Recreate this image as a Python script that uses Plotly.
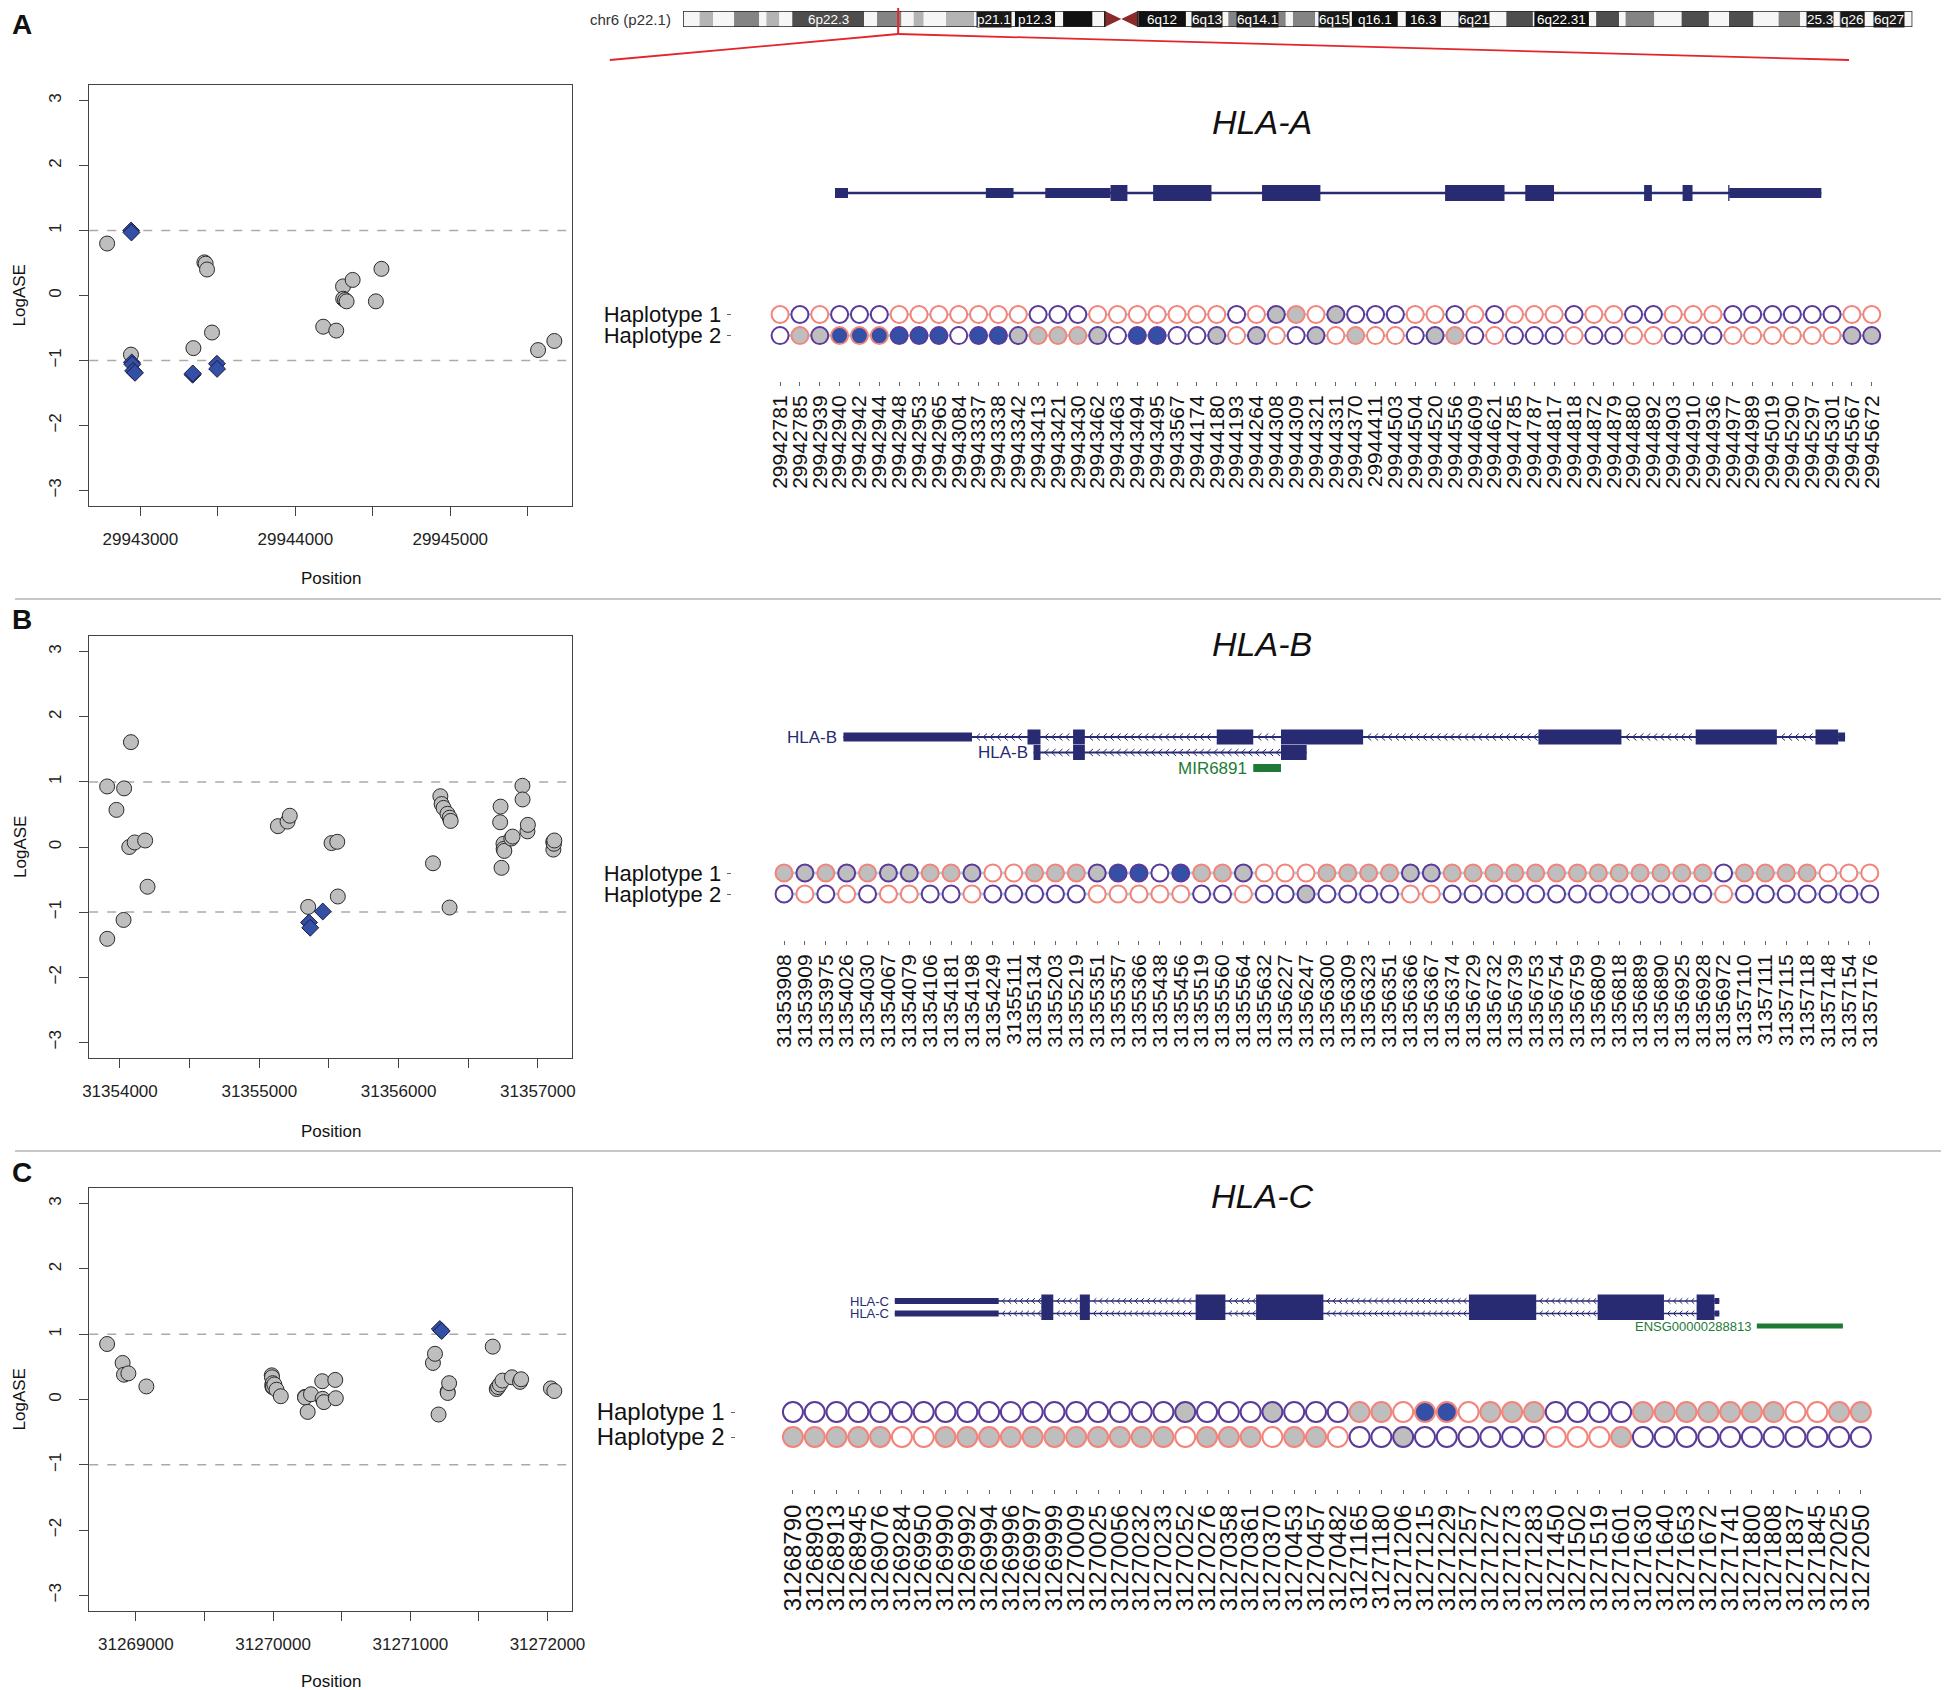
import numpy as np
import plotly.graph_objects as go

W, H = 1949, 1690
OFF = 8  # page margin of the html body
SANS = "Liberation Sans, Arial, Helvetica, sans-serif"
NARROW = "Liberation Sans Narrow, Liberation Sans, Arial, sans-serif"

PINK = "#F4837A"
PURPLE = "#5B3A9A"
GREY = "#BEBEBE"
BLUE = "#3450A6"
LINK = "#A8D7EC"
NAVY = "#282A72"
GREEN = "#1E7A36"
RED = "#E3262B"

# ---------------- chromosome 6 ideogram (hg19 bands, Mb) ----------------
band_name = ["p25.3", "p25.2", "p25.1", "p24.3", "p24.2", "p24.1", "p23", "p22.3", "p22.2", "p22.1",
             "p21.33", "p21.32", "p21.31", "p21.2", "p21.1", "p12.3", "p12.2", "p12.1", "p11.2", "p11.1",
             "q11.1", "q11.2", "q12", "q13", "q14.1", "q14.2", "q14.3", "q15", "q16.1", "q16.2",
             "q16.3", "q21", "q22.1", "q22.2", "q22.31", "q22.32", "q22.33", "q23.1", "q23.2", "q23.3",
             "q24.1", "q24.2", "q24.3", "q25.1", "q25.2", "q25.3", "q26", "q27"]
band_start = [0.0, 2.3, 4.2, 7.1, 10.6, 11.6, 13.4, 15.2, 25.2, 27.0,
              30.4, 32.1, 33.5, 36.6, 40.5, 46.2, 51.8, 52.9, 57.0, 58.7,
              61.0, 63.3, 63.4, 70.0, 75.9, 83.9, 84.9, 88.0, 93.1, 99.5,
              100.6, 105.5, 114.6, 118.3, 118.5, 126.1, 127.1, 130.3, 131.2, 135.2,
              139.0, 142.8, 145.6, 149.0, 152.5, 155.5, 161.0, 164.5]
band_end = [2.3, 4.2, 7.1, 10.6, 11.6, 13.4, 15.2, 25.2, 27.0, 30.4,
            32.1, 33.5, 36.6, 40.5, 46.2, 51.8, 52.9, 57.0, 58.7, 61.0,
            63.3, 63.4, 70.0, 75.9, 83.9, 84.9, 88.0, 93.1, 99.5, 100.6,
            105.5, 114.6, 118.3, 118.5, 126.1, 127.1, 130.3, 131.2, 135.2, 139.0,
            142.8, 145.6, 149.0, 152.5, 155.5, 161.0, 164.5, 171.115]
band_stain = ["gneg", "gpos25", "gneg", "gpos50", "gneg", "gpos25", "gneg", "gpos75", "gneg", "gpos50",
              "gneg", "gpos25", "gneg", "gpos25", "gneg", "gpos100", "gneg", "gpos100", "gneg", "acen",
              "acen", "gneg", "gpos100", "gneg", "gpos50", "gneg", "gpos50", "gneg", "gpos100", "gneg",
              "gpos100", "gneg", "gpos75", "gneg", "gpos100", "gneg", "gpos75", "gneg", "gpos50", "gneg",
              "gpos75", "gneg", "gpos75", "gneg", "gpos50", "gneg", "gpos50", "gneg"]
label_band = ["p22.3", "p21.1", "p12.3", "q12", "q13", "q14.1", "q15", "q16.1", "q16.3", "q21", "q22.31", "q25.3", "q26", "q27"]
label_text = ["6p22.3", "p21.1", "p12.3", "6q12", "6q13", "6q14.1", "6q15", "q16.1", "16.3", "6q21", "6q22.31", "25.3", "q26", "6q27"]
chr_len = 171.115
hla_a_mb = 29.943

# ---------------- HLA-A ----------------
a_pos = [29942781, 29942785, 29942939, 29942940, 29942942, 29942944, 29942948, 29942953, 29942965, 29943084,
         29943337, 29943338, 29943342, 29943413, 29943421, 29943430, 29943462, 29943463, 29943494, 29943495,
         29943567, 29944174, 29944180, 29944193, 29944264, 29944308, 29944309, 29944321, 29944331, 29944370,
         29944411, 29944503, 29944504, 29944520, 29944556, 29944609, 29944621, 29944785, 29944787, 29944817,
         29944818, 29944872, 29944879, 29944880, 29944892, 29944903, 29944910, 29944936, 29944977, 29944989,
         29945019, 29945290, 29945297, 29945301, 29945567, 29945672]
a_hap1 = "RPRPPPRRRR" "RRRPPPRRRR" "RRRPRPRRPP" "PPRRPRPRRR" "PRRPPRRRPP" "PPPPRR"
a_hap2 = "PRPRRRPPPP" "PPPRRRPPPP" "PPPRPRPPRR" "RRPPRPRPPP" "RPPRRPPPRR" "RRRRPP"
a_fill1 = ".........." ".........." ".....GG.G." ".........." ".........." "......"
a_fill2 = ".GGBBBBBB." "BBGGGGG.BB" "..G.G..G.G" "...GG....." ".........." "....GG"
a_logase = [None, 0.80, -0.91, 1.00, 0.97, -1.03, -1.06, -1.16, -1.19, None,
            -1.22, -1.20, -0.81, 0.51, 0.49, 0.40, -0.57, None, -1.05, -1.13,
            None, None, -0.48, None, -0.54, 0.14, -0.05, -0.07, -0.09, 0.24,
            None, None, None, -0.09, 0.41, None, None, None, None, None,
            None, None, None, None, None, None, None, None, None, None,
            None, None, None, None, -0.84, -0.70]
a_track = [29940243, 29945977]
a_line = [29941285, 29945849]
a_utr_start = [29941285, 29941983, 29942258, 29945423]
a_utr_end = [29941345, 29942111, 29942560, 29945849]
a_cds_start = [29942560, 29942757, 29943261, 29944108, 29944479, 29945029, 29945207, 29945418]
a_cds_end = [29942638, 29943027, 29943531, 29944383, 29944612, 29945065, 29945253, 29945424]

# ---------------- HLA-B ----------------
b_pos = [31353908, 31353909, 31353975, 31354026, 31354030, 31354067, 31354079, 31354106, 31354181, 31354198,
         31354249, 31355111, 31355134, 31355203, 31355219, 31355351, 31355357, 31355366, 31355438, 31355456,
         31355519, 31355560, 31355564, 31355632, 31356227, 31356247, 31356300, 31356309, 31356323, 31356351,
         31356366, 31356367, 31356374, 31356729, 31356732, 31356739, 31356753, 31356754, 31356759, 31356809,
         31356818, 31356889, 31356890, 31356925, 31356928, 31356972, 31357110, 31357111, 31357115, 31357118,
         31357148, 31357154, 31357176]
b_hap1 = "RPRPRPPRRP" "RRRRRPPPPP" "RRPRRRRRRR" "PPRRRRRRRR" "RRRRRPRRRR" "RRR"
b_hap2 = "PRPRPRRPPR" "PPPPPRRRRR" "PPRPPPPPPP" "RRPPPPPPPP" "PPPPPRPPPP" "PPP"
b_fill1 = "GGGGGGGGGG" "..GGGGBB.B" "GGG...GGGG" "GGGGGGGGGG" "GGGGG.GGGG" "..."
b_fill2 = ".........." ".........." ".....G...." ".........." ".........." "..."
b_logase = [0.93, -1.41, 0.57, -1.12, 0.90, 0.00, 1.61, 0.07, 0.10, -0.61,
            None, None, 0.32, 0.39, 0.48, -0.92, -1.16, -1.24, None, -0.99,
            0.06, 0.08, -0.76, None, None, -0.25, 0.78, 0.66, 0.60, 0.51,
            -0.93, 0.45, 0.40, 0.38, 0.62, -0.32, 0.05, -0.03, -0.06, 0.13,
            0.16, 0.94, 0.73, 0.24, 0.34, None, 0.08, -0.04, 0.05, 0.10,
            None, None, None]
b_track = [31353098, 31357204]
b1_line = [31353872, 31357191]
b1_utr_start = [31353872, 31357168]
b1_utr_end = [31354298, 31357191]
b1_cds_start = [31354482, 31354633, 31355109, 31355322, 31356175, 31356696, 31357093]
b1_cds_end = [31354525, 31354672, 31355230, 31355594, 31356450, 31356965, 31357168]
b2_line = [31354502, 31355407]
b2_cds_start = [31354502, 31354633, 31355322]
b2_cds_end = [31354525, 31354672, 31355407]
b_mir = [31355230, 31355322]

# ---------------- HLA-C ----------------
c_pos = [31268790, 31268903, 31268913, 31268945, 31269076, 31269284, 31269950, 31269990, 31269992, 31269994,
         31269996, 31269997, 31269999, 31270009, 31270025, 31270056, 31270232, 31270233, 31270252, 31270276,
         31270358, 31270361, 31270370, 31270453, 31270457, 31270482, 31271165, 31271180, 31271206, 31271215,
         31271229, 31271257, 31271272, 31271273, 31271283, 31271450, 31271502, 31271519, 31271601, 31271630,
         31271640, 31271653, 31271672, 31271741, 31271800, 31271808, 31271837, 31271845, 31272025, 31272050]
c_hap1 = "PPPPPPPPPP" "PPPPPPPPPP" "PPPPPPRRRR" "RRRRRPPPPR" "RRRRRRRRRR"
c_hap2 = "RRRRRRRRRR" "RRRRRRRRRR" "RRRRRRPPPP" "PPPPPRRRRP" "PPPPPPPPPP"
c_fill1 = ".........." "........G." "..G...GG.B" "B.GGG....G" "GGGGGG..GG"
c_fill2 = "GGGGG..GGG" "GGGGGGGG.G" "GG.GG...G." "........G." ".........."
c_logase = [0.85, 0.56, 0.38, 0.40, 0.20, None, None, 0.37, 0.34, 0.22,
            0.19, 0.25, 0.20, 0.23, 0.15, 0.05, 0.04, 0.03, -0.19, 0.08,
            0.28, 0.01, -0.04, 0.30, 0.02, None, 0.56, 0.70, -0.23, 1.08,
            1.05, None, 0.12, 0.10, 0.25, None, None, None, 0.81, 0.16,
            0.19, 0.23, 0.29, 0.34, 0.27, 0.31, None, None, 0.17, 0.13]
c_track = [31267580, 31272663]
c_line = [31268749, 31272131]
c_utr_start = [31268749, 31272111]
c_utr_end = [31269175, 31272131]
c_cds_start = [31269350, 31269508, 31269983, 31270231, 31271104, 31271632, 31272038]
c_cds_end = [31269399, 31269549, 31270105, 31270507, 31271380, 31271904, 31272111]
c_ensg = [31272285, 31272638]

panels = [
    dict(letter="A", gene="HLA-A", pos=a_pos, hap1=a_hap1, hap2=a_hap2, fill1=a_fill1, fill2=a_fill2, logase=a_logase),
    dict(letter="B", gene="HLA-B", pos=b_pos, hap1=b_hap1, hap2=b_hap2, fill1=b_fill1, fill2=b_fill2, logase=b_logase),
    dict(letter="C", gene="HLA-C", pos=c_pos, hap1=c_hap1, hap2=c_hap2, fill1=c_fill1, fill2=c_fill2, logase=c_logase),
]
for p in panels:
    n = len(p["pos"])
    assert all(len(p[k]) == n for k in ("hap1", "hap2", "fill1", "fill2", "logase")), p["letter"]

# transcripts: (panel, row, line, utr starts, utr ends, cds starts, cds ends, label, colour, chevrons)
transcripts = [
    (0, 0, a_line, a_utr_start, a_utr_end, a_cds_start, a_cds_end, None, NAVY, False),
    (1, 0, b1_line, b1_utr_start, b1_utr_end, b1_cds_start, b1_cds_end, "HLA-B", NAVY, True),
    (1, 1, b2_line, [], [], b2_cds_start, b2_cds_end, "HLA-B", NAVY, True),
    (1, 2, b_mir, b_mir[:1], b_mir[1:], [], [], "MIR6891", GREEN, False),
    (2, 0, c_line, c_utr_start, c_utr_end, c_cds_start, c_cds_end, "HLA-C", NAVY, True),
    (2, 1, c_line, c_utr_start, c_utr_end, c_cds_start, c_cds_end, "HLA-C", NAVY, True),
    (2, 2, c_ensg, c_ensg[:1], c_ensg[1:], [], [], "ENSG00000288813", GREEN, False),
]
tracks = [a_track, b_track, c_track]

# ---------------- layout geometry (page pixels) ----------------
BOX_L, BOX_R = 83, 571
geo = [
    dict(top=85, bottom=506, title_y=579, letter_y=24, first=781, last=1884, row1=314.5, row2=335.6,
         htop=302, hbot=381, hleft=732, hright=1905, pfont=21, hfont=22, dot=17, gtitle=122),
    dict(top=636, bottom=1058, title_y=1131, letter_y=619, first=785, last=1882, row1=873, row2=894,
         htop=860, hbot=940, hleft=732, hright=1905, pfont=21, hfont=22, dot=17, gtitle=644),
    dict(top=1188, bottom=1611, title_y=1681, letter_y=1172, first=794, last=1873, row1=1412, row2=1437,
         htop=1398, hbot=1489, hleft=736, hright=1900, pfont=24, hfont=24, dot=20, gtitle=1196),
]
gene_geo = [
    dict(top=172, bottom=214, row0=193, sp=16, thick=16, thin=10, line=2.5, lfont=17, step=7, dx=4, dy=3.5),
    dict(top=720, bottom=785, row0=737, sp=15.5, thick=15, thin=9, line=2, lfont=17, step=7, dx=4, dy=3.5),
    dict(top=1286, bottom=1340, row0=1301, sp=12.5, thick=13, thin=6, line=1.5, lfont=13, step=6, dx=3, dy=2.8),
]
TRACK_L, TRACK_R = 609, 1861
IDEO_L, IDEO_R, IDEO_T, IDEO_B = 683, 1925, 11, 27


def fx(px):
    return (px - OFF) / W


def fy(py):
    return 1 - (py - OFF) / H


def xr(i):
    return "x" if i == 1 else f"x{i}"


def yr(i):
    return "y" if i == 1 else f"y{i}"


def xk(i):
    return "xaxis" if i == 1 else f"xaxis{i}"


def yk(i):
    return "yaxis" if i == 1 else f"yaxis{i}"


fig = go.Figure()
axes = {}
shapes = []
notes = []
FILL = {".": "white", "G": GREY, "B": BLUE}
EDGE = {"R": PINK, "P": PURPLE}

for i, (p, g) in enumerate(zip(panels, geo), start=1):
    pos = np.array(p["pos"], dtype=float)
    n = len(pos)
    state = [a if a != "." else b for a, b in zip(p["fill1"], p["fill2"])]
    meas = [k for k, v in enumerate(p["logase"]) if v is not None]

    # ---- LogASE scatter ----
    lo, hi = pos[meas].min(), pos[meas].max()
    pad = 0.04 * (hi - lo)
    xrng = [lo - pad, hi + pad]
    tv = np.arange(np.ceil(xrng[0] / 500) * 500, xrng[1], 500)
    for sym, code, size, col, edge in [("circle", "G", 15, GREY, "#2a2a2a"), ("diamond", "B", 13, BLUE, "#1a1a40")]:
        ks = [k for k in meas if state[k] == code]
        fig.add_trace(go.Scatter(x=pos[ks], y=[p["logase"][k] for k in ks], mode="markers",
                                 marker=dict(symbol=sym, size=size, color=col, line=dict(color=edge, width=1)),
                                 xaxis=xr(i), yaxis=yr(i), hoverinfo="skip"))
    axes[xk(i)] = dict(domain=[fx(BOX_L), fx(BOX_R)], range=xrng, anchor=yr(i), tickmode="array", tickvals=tv,
                       ticktext=[f"{int(t)}" if t % 1000 == 0 else "" for t in tv], ticks="outside", ticklen=9,
                       tickcolor="#444", showline=True, linecolor="#444", linewidth=1, mirror=True,
                       showgrid=False, zeroline=False, ticklabelstandoff=9,
                       tickfont=dict(family=SANS, size=17, color="#222"))
    axes[yk(i)] = dict(domain=[fy(g["bottom"]), fy(g["top"])], range=[-3.24, 3.24], anchor=xr(i),
                       tickmode="array", tickvals=list(range(-3, 4)), tickangle=-90, ticks="outside", ticklen=9,
                       tickcolor="#444", showline=True, linecolor="#444", linewidth=1, mirror=True,
                       showgrid=False, zeroline=False, ticklabelstandoff=11,
                       tickfont=dict(family=SANS, size=17, color="#222"))
    for yv in (1, -1):
        shapes.append(dict(type="line", xref=f"{xr(i)} domain", x0=0, x1=1, yref=yr(i), y0=yv, y1=yv,
                           line=dict(color="#AAAAAA", width=1.5, dash="dash"), layer="below"))
    notes.append(dict(text="Position", x=fx((BOX_L + BOX_R) / 2), y=fy(g["title_y"]), font=dict(size=17)))
    notes.append(dict(text="LogASE", x=fx(13), y=fy((g["top"] + g["bottom"]) / 2), textangle=-90, font=dict(size=17)))
    notes.append(dict(text=f"<b>{p['letter']}</b>", x=fx(15), y=fy(g["letter_y"]), font=dict(size=28, color="#111")))

    # ---- haplotype track ----
    j = i + 3
    step = (g["last"] - g["first"]) / (n - 1)
    rsp = g["row2"] - g["row1"]
    idx = np.arange(1, n + 1)
    for row, allele, fill in [(1, p["hap1"], p["fill1"]), (0, p["hap2"], p["fill2"])]:
        fig.add_trace(go.Scatter(x=idx, y=[row] * n, mode="lines", line=dict(color=LINK, width=3),
                                 xaxis=xr(j), yaxis=yr(j), hoverinfo="skip"))
        fig.add_trace(go.Scatter(x=idx, y=[row] * n, mode="markers",
                                 marker=dict(size=g["dot"], color=[FILL[c] for c in fill],
                                             line=dict(color=[EDGE[c] for c in allele], width=2)),
                                 xaxis=xr(j), yaxis=yr(j), hoverinfo="skip"))
    axes[xk(j)] = dict(domain=[fx(g["hleft"]), fx(g["hright"])],
                       range=[1 + (g["hleft"] - g["first"]) / step, n + (g["hright"] - g["last"]) / step],
                       anchor=yr(j), tickmode="array", tickvals=idx, ticktext=[str(v) for v in p["pos"]],
                       tickangle=-90, ticks="outside", ticklen=4, tickcolor="#666", showline=False,
                       showgrid=False, zeroline=False, ticklabelstandoff=1,
                       tickfont=dict(family=SANS, size=g["pfont"], color="#111"))
    axes[yk(j)] = dict(domain=[fy(g["hbot"]), fy(g["htop"])],
                       range=[-(g["hbot"] - g["row2"]) / rsp, 1 + (g["row1"] - g["htop"]) / rsp],
                       anchor=xr(j), tickmode="array", tickvals=[1, 0], ticktext=["Haplotype 1", "Haplotype 2"],
                       ticks="outside", ticklen=4, tickcolor="#666", showline=False, showgrid=False,
                       zeroline=False, ticklabelstandoff=1, tickfont=dict(family=SANS, size=g["hfont"], color="#111"))

    # ---- gene track axes ----
    k = i + 6
    gg = gene_geo[i - 1]
    axes[xk(k)] = dict(domain=[fx(TRACK_L), fx(TRACK_R)], range=tracks[i - 1], anchor=yr(k), visible=False)
    axes[yk(k)] = dict(domain=[fy(gg["bottom"]), fy(gg["top"])],
                       range=[-(gg["bottom"] - gg["row0"]) / gg["sp"], (gg["row0"] - gg["top"]) / gg["sp"]],
                       anchor=xr(k), visible=False)
    notes.append(dict(text=f"<i>{p['gene']}</i>", x=fx((TRACK_L + TRACK_R) / 2 + 33), y=fy(g["gtitle"]),
                      font=dict(size=34, color="#111")))


def segs(starts, ends, row):
    xs, ys = [], []
    for s, e in zip(starts, ends):
        xs += [s, e, None]
        ys += [-row, -row, None]
    return xs, ys


for pi, row, line, us, ue, cs, ce, label, col, chev in transcripts:
    k = pi + 7
    gg = gene_geo[pi]
    track = tracks[pi]
    bp_px = (track[1] - track[0]) / (TRACK_R - TRACK_L)
    kw = dict(xaxis=xr(k), yaxis=yr(k), hoverinfo="skip", mode="lines")
    if cs:
        fig.add_trace(go.Scatter(x=line, y=[-row, -row], line=dict(color=col, width=gg["line"]), **kw))
    if chev:
        blocks = sorted(zip(list(us) + list(cs), list(ue) + list(ce)))
        xs, ys = [], []
        dx, dy = gg["dx"] * bp_px, gg["dy"] / gg["sp"]
        for (s0, e0), (s1, e1) in zip(blocks[:-1], blocks[1:]):
            for c in np.arange(e0 + gg["step"] * bp_px * 0.6, s1 - dx, gg["step"] * bp_px):
                xs += [c + dx, c, c + dx, None]
                ys += [-row + dy, -row, -row - dy, None]
        fig.add_trace(go.Scatter(x=xs, y=ys, line=dict(color=col, width=1), **kw))
    thin_w = gg["thin"] if col == NAVY else gg["thin"] - 1
    x_u, y_u = segs(us, ue, row)
    fig.add_trace(go.Scatter(x=x_u, y=y_u, line=dict(color=col, width=thin_w), **kw))
    x_c, y_c = segs(cs, ce, row)
    fig.add_trace(go.Scatter(x=x_c, y=y_c, line=dict(color=col, width=gg["thick"]), **kw))
    if label:
        notes.append(dict(text=label, x=line[0], y=-row, xref=xr(k), yref=yr(k), xanchor="right", xshift=-4,
                          font=dict(family=NARROW, size=gg["lfont"], color=col if col == GREEN else NAVY)))

# ---------------- ideogram ----------------
STAIN = {"gneg": "#F6F6F6", "gpos25": "#B4B4B4", "gpos50": "#848484", "gpos75": "#4E4E4E",
         "gpos100": "#111111", "acen": "#8B2A2A"}
axes["xaxis10"] = dict(domain=[fx(IDEO_L), fx(IDEO_R)], range=[0, chr_len], anchor="y10", visible=False)
axes["yaxis10"] = dict(domain=[fy(IDEO_B), fy(IDEO_T)], range=[0, 1], anchor="x10", visible=False)
for nm, s, e, st in zip(band_name, band_start, band_end, band_stain):
    if st == "acen":
        path = f"M{s},0 L{s},1 L{e},0.5 Z" if nm.startswith("p") else f"M{s},0.5 L{e},1 L{e},0 Z"
        shapes.append(dict(type="path", path=path, xref="x10", yref="y10", fillcolor=STAIN[st], line=dict(width=0)))
    else:
        shapes.append(dict(type="rect", xref="x10", yref="y10", x0=s, x1=e, y0=0, y1=1,
                           fillcolor=STAIN[st], line=dict(width=0)))
p_end = band_end[band_name.index("p11.2")]
q_start = band_start[band_name.index("q11.2")]
for x0, x1 in [(0, p_end), (q_start, chr_len)]:
    shapes.append(dict(type="rect", xref="x10", yref="y10", x0=x0, x1=x1, y0=0, y1=1,
                       line=dict(color="#222", width=1.5), fillcolor="rgba(0,0,0,0)"))
for b, t in zip(label_band, label_text):
    bi = band_name.index(b)
    dark = band_stain[bi] in ("gpos75", "gpos100")
    notes.append(dict(text=t, x=(band_start[bi] + band_end[bi]) / 2, y=0.5, xref="x10", yref="y10",
                      font=dict(family=NARROW, size=13.5, color="white"),
                      bgcolor=None if dark else "#1a1a1a", borderpad=0))
notes.append(dict(text="chr6 (p22.1)", x=fx(IDEO_L - 10), y=fy(19), xanchor="right",
                  font=dict(family=NARROW, size=15, color="#333")))

# red zoom marker
hla_px = IDEO_L + hla_a_mb / chr_len * (IDEO_R - IDEO_L)
shapes.append(dict(type="line", xref="x10", yref="paper", x0=hla_a_mb, x1=hla_a_mb, y0=fy(5), y1=fy(34),
                   line=dict(color=RED, width=2)))
for end_px in (TRACK_L, TRACK_R):
    shapes.append(dict(type="line", xref="paper", yref="paper", x0=fx(hla_px), y0=fy(34), x1=fx(end_px), y1=fy(60),
                       line=dict(color=RED, width=1.8)))

# panel separators
for sep in (599, 1151):
    shapes.append(dict(type="line", xref="paper", yref="paper", x0=0, x1=1, y0=fy(sep), y1=fy(sep),
                       line=dict(color="#C8C8C8", width=2)))

ann = []
for a in notes:
    d = dict(showarrow=False, xref="paper", yref="paper", xanchor="center", yanchor="middle")
    d.update(a)
    f = dict(family=SANS, color="#111")
    f.update(a.get("font", {}))
    d["font"] = f
    ann.append(d)

fig.update_layout(width=W, height=H, margin=dict(l=0, r=0, t=0, b=0), paper_bgcolor="white",
                  plot_bgcolor="white", showlegend=False, shapes=shapes, annotations=ann, **axes)
fig.write_html("out.html")
